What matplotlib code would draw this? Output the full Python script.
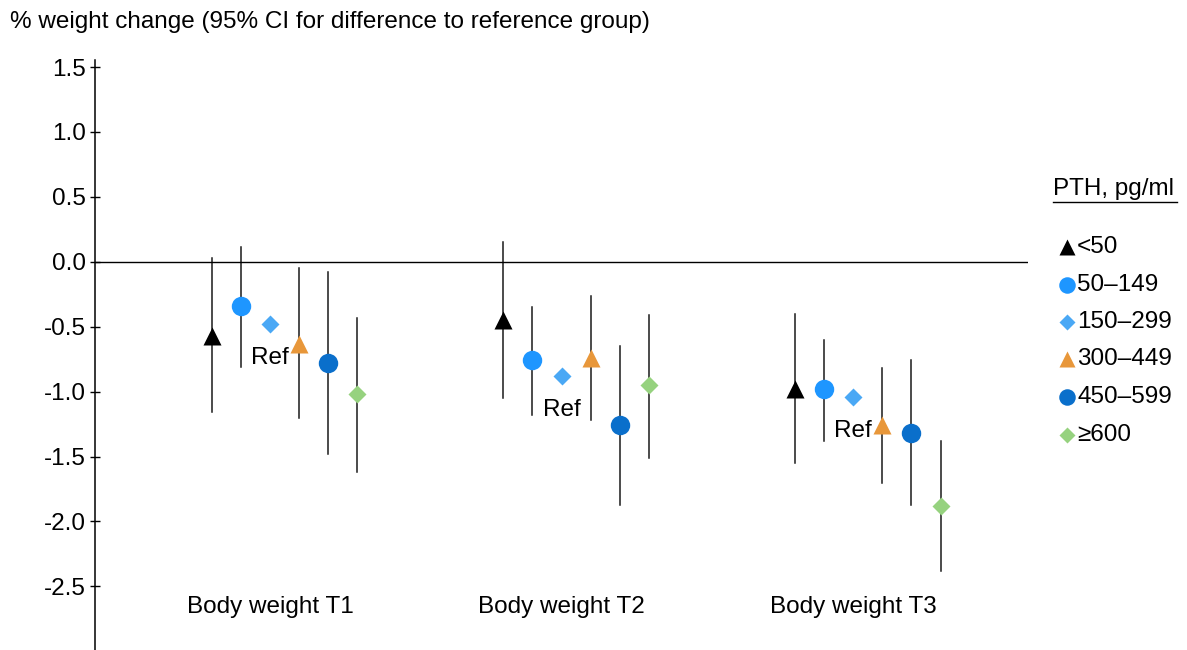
import matplotlib
matplotlib.use('Agg')
import matplotlib.pyplot as plt
import numpy as np

plt.rcParams['font.family'] = ['Liberation Sans', 'DejaVu Sans']

# PTH groups, marker styles and colours
groups = ['<50', '50–149', '150–299', '300–449', '450–599', '≥600']
markers = ['^', 'o', 'D', '^', 'o', 'D']
colors = ['#000000', '#1E96FF', '#4AA8F5', '#E8973A', '#0A6FCB', '#96D27F']
msizes = [13, 14, 9.5, 13, 14, 9.5]
periods = ['Body weight T1', 'Body weight T2', 'Body weight T3']
ref_idx = 2
fs = 17.5

# % weight change per period (rows) and PTH group (columns)
est = np.array([
    [-0.57, -0.34, -0.48, -0.63, -0.78, -1.02],
    [-0.45, -0.76, -0.88, -0.74, -1.26, -0.95],
    [-0.98, -0.98, -1.04, -1.26, -1.32, -1.88],
])
lo = np.array([
    [-1.16, -0.81, np.nan, -1.20, -1.48, -1.62],
    [-1.05, -1.18, np.nan, -1.22, -1.87, -1.51],
    [-1.55, -1.38, np.nan, -1.70, -1.87, -2.38],
])
hi = np.array([
    [0.03, 0.11, np.nan, -0.05, -0.08, -0.43],
    [0.15, -0.35, np.nan, -0.26, -0.65, -0.41],
    [-0.40, -0.60, np.nan, -0.82, -0.76, -1.38],
])

fig = plt.figure(figsize=(11.87, 6.5), dpi=100)
ax = fig.add_axes([95 / 1187, 0, (1028 - 95) / 1187, 590 / 650])

for g in range(3):
    for i in range(6):
        x = 10 * g + i
        if not np.isnan(lo[g, i]):
            ax.plot([x, x], [lo[g, i], hi[g, i]], color='#1a1a1a', lw=1.1, zorder=1)
        ax.plot(x, est[g, i], marker=markers[i], ms=msizes[i], color=colors[i],
                mec='none', ls='none', zorder=3)
    ax.text(10 * g + ref_idx, est[g, ref_idx] - 0.26, 'Ref', ha='center', va='center',
            fontsize=fs, zorder=2)
    ax.text(10 * g + 2, -2.66, periods[g], ha='center', va='center', fontsize=fs)

ax.axhline(0, color='black', lw=1)
ax.set_xlim(-4, 28)
ax.set_ylim(-2.99, 1.554)
ax.set_yticks(np.arange(-2.5, 1.51, 0.5))
ax.set_yticklabels(['%.1f' % v for v in np.arange(-2.5, 1.51, 0.5)], fontsize=fs)
ax.tick_params(axis='y', direction='inout', length=7, width=1, pad=3)
ax.set_xticks([])
for s in ['top', 'right', 'bottom']:
    ax.spines[s].set_visible(False)
ax.spines['left'].set_linewidth(1.1)

fig.text(10 / 1187, 1 - 22 / 650, '% weight change (95% CI for difference to reference group)',
         fontsize=fs, va='center', ha='left')

# legend drawn by hand on the right
fig.text(1053 / 1187, 1 - 189 / 650, 'PTH, pg/ml', fontsize=fs, va='center', ha='left')
fig.add_artist(plt.Line2D([1053 / 1187, 1177 / 1187], [1 - 202 / 650, 1 - 202 / 650],
                          color='black', lw=1))
leg_y = [247, 285, 322, 359, 397, 435]
for i in range(6):
    yy = 1 - leg_y[i] / 650
    fig.add_artist(plt.Line2D([1067 / 1187], [yy], marker=markers[i], ms=msizes[i] * 0.85,
                              color=colors[i], mec='none', ls='none'))
    fig.text(1077 / 1187, yy, groups[i], fontsize=fs, va='center', ha='left')

fig.savefig('out.png', dpi=100)
